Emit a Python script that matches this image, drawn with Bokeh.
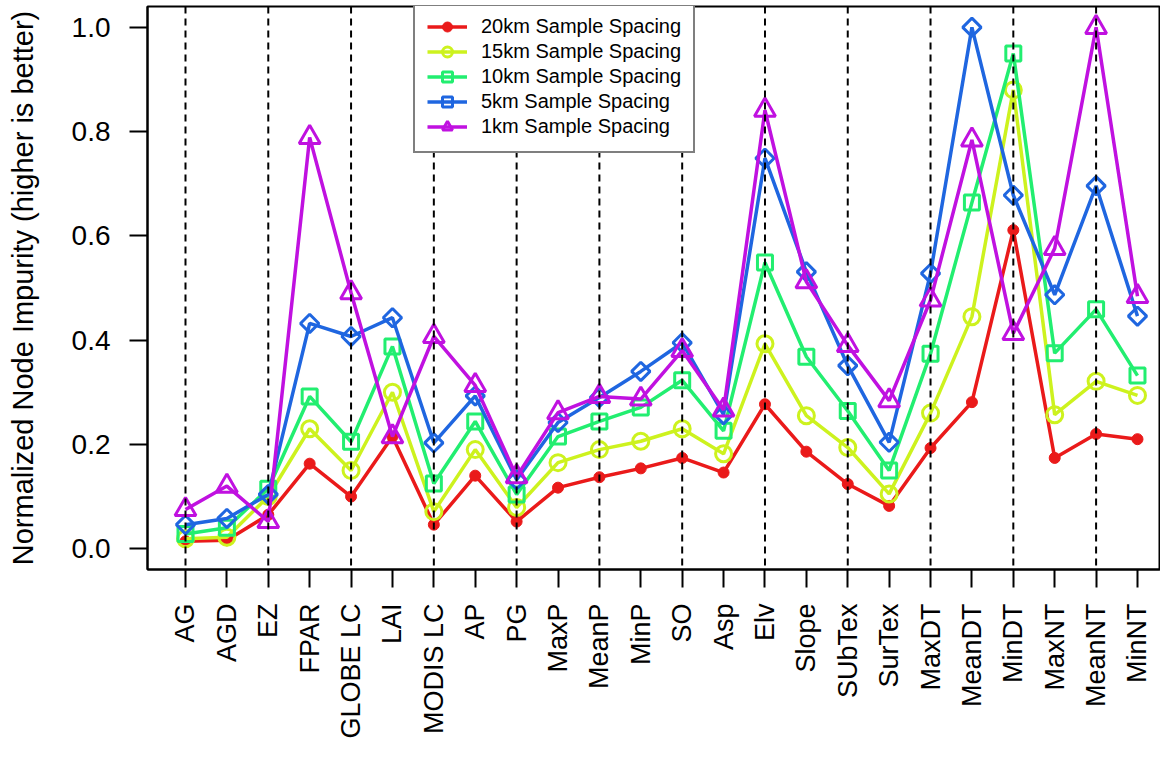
import math
from bokeh.plotting import figure
from bokeh.models import (Range1d, FixedTicker, Span, Legend, LegendItem,
                          ColumnDataSource)
from bokeh.embed import file_html
from bokeh.resources import INLINE

# ---------------- data ----------------
labels = ["AG", "AGD", "EZ", "FPAR", "GLOBE LC", "LAI", "MODIS LC", "AP", "PG",
          "MaxP", "MeanP", "MinP", "SO", "Asp", "Elv", "Slope", "SUbTex", "SurTex",
          "MaxDT", "MeanDT", "MinDT", "MaxNT", "MeanNT", "MinNT"]

s20km = [0.014, 0.016, 0.065, 0.163, 0.100, 0.215, 0.046, 0.140, 0.052, 0.117, 0.137, 0.154,
         0.174, 0.146, 0.277, 0.186, 0.124, 0.082, 0.193, 0.281, 0.611, 0.174, 0.220, 0.210]
s15km = [0.019, 0.022, 0.100, 0.230, 0.150, 0.300, 0.071, 0.190, 0.079, 0.165, 0.190, 0.206,
         0.230, 0.182, 0.393, 0.255, 0.194, 0.105, 0.260, 0.445, 0.880, 0.257, 0.321, 0.294]
s10km = [0.028, 0.040, 0.115, 0.292, 0.205, 0.388, 0.125, 0.244, 0.104, 0.215, 0.244, 0.271,
         0.323, 0.226, 0.549, 0.368, 0.264, 0.150, 0.374, 0.664, 0.950, 0.375, 0.459, 0.332]
s5km = [0.046, 0.058, 0.104, 0.432, 0.407, 0.443, 0.203, 0.293, 0.132, 0.242, 0.290, 0.340,
        0.395, 0.257, 0.749, 0.531, 0.351, 0.204, 0.528, 1.000, 0.678, 0.487, 0.696, 0.446]
s1km = [0.075, 0.120, 0.052, 0.789, 0.491, 0.215, 0.407, 0.313, 0.138, 0.261, 0.292, 0.287,
        0.380, 0.266, 0.841, 0.512, 0.390, 0.284, 0.477, 0.784, 0.413, 0.576, 1.000, 0.484]

series_names = ["20km Sample Spacing", "15km Sample Spacing", "10km Sample Spacing",
                "5km Sample Spacing", "1km Sample Spacing"]
y_ticks = [0.0, 0.2, 0.4, 0.6, 0.8, 1.0]
y_title = "Normalized Node Impurity (higher is better)"

xs = list(range(1, len(labels) + 1))
dashed_at = xs[0::2]

FONT = "Liberation Sans"

p = figure(width=1160, height=741, output_backend="svg", toolbar_location=None,
           x_range=Range1d(0.082, 24.556), y_range=Range1d(-0.04, 1.04),
           min_border_left=147, min_border_right=0, min_border_top=6,
           min_border_bottom=170)
p.xgrid.visible = False
p.ygrid.visible = False
p.outline_line_color = "black"
p.outline_line_width = 2
p.background_fill_color = "white"
p.border_fill_color = "white"

# axes
p.xaxis.ticker = FixedTicker(ticks=xs)
p.xaxis.major_label_overrides = {x: lab for x, lab in zip(xs, labels)}
p.xaxis.major_label_orientation = math.pi / 2
p.yaxis.ticker = FixedTicker(ticks=y_ticks)
p.yaxis.major_label_overrides = {v: f"{v:.1f}" for v in y_ticks}
for ax in (p.xaxis[0], p.yaxis[0]):
    ax.axis_line_color = "black"
    ax.axis_line_width = 2
    ax.major_tick_line_color = "black"
    ax.major_tick_line_width = 2
    ax.major_tick_out = 18
    ax.major_tick_in = 0
    ax.minor_tick_line_color = None
    ax.major_label_text_font = FONT
    ax.major_label_text_color = "black"
p.xaxis.major_label_text_font_size = "27px"
p.yaxis.major_label_text_font_size = "28px"
p.xaxis.major_label_standoff = 16
p.yaxis.major_label_standoff = 19

p.yaxis.axis_label = y_title
p.yaxis.axis_label_text_font = FONT
p.yaxis.axis_label_text_font_size = "29px"
p.yaxis.axis_label_text_font_style = "normal"
p.yaxis.axis_label_text_color = "black"
p.yaxis.axis_label_standoff = 30

# dashed vertical guide lines
for loc in dashed_at:
    p.add_layout(Span(location=loc, dimension="height", line_color="black",
                      line_width=2, line_dash="7 5"))

colors = ["#ea1a1a", "#cdf21e", "#22ee70", "#1f66e0", "#c011e0"]
data = [s20km, s15km, s10km, s5km, s1km]
items = []
for i, (name, ys, c) in enumerate(zip(series_names, data, colors)):
    src = ColumnDataSource(dict(x=xs, y=ys))
    ln = p.line("x", "y", source=src, line_color=c, line_width=3.5)
    if i == 0:
        mk = p.scatter("x", "y", source=src, marker="circle", size=11,
                       fill_color=c, line_color=c, line_width=1)
    elif i == 1:
        mk = p.scatter("x", "y", source=src, marker="circle", size=16,
                       fill_alpha=0.0, line_color=c, line_width=3)
    elif i == 2:
        mk = p.scatter("x", "y", source=src, marker="square", size=15,
                       fill_alpha=0.0, line_color=c, line_width=3)
    elif i == 3:
        mk = p.scatter("x", "y", source=src, marker="square", size=13, angle=math.pi / 4,
                       fill_alpha=0.0, line_color=c, line_width=3)
    else:
        mk = p.scatter("x", "y", source=src, marker="triangle", size=21,
                       fill_alpha=0.0, line_color=c, line_width=3)
    items.append(LegendItem(label=name, renderers=[ln, mk]))

legend = Legend(items=items, location=(266, 416))
legend.label_text_font = FONT
legend.label_text_font_size = "20px"
legend.label_text_color = "black"
legend.glyph_width = 40
legend.glyph_height = 25
legend.label_height = 25
legend.spacing = 0
legend.padding = 12
legend.margin = 0
legend.label_standoff = 14
legend.border_line_color = "black"
legend.border_line_width = 2
legend.background_fill_color = "white"
legend.background_fill_alpha = 1.0
p.add_layout(legend, "center")

open("out.html", "w").write(file_html(p, INLINE))
